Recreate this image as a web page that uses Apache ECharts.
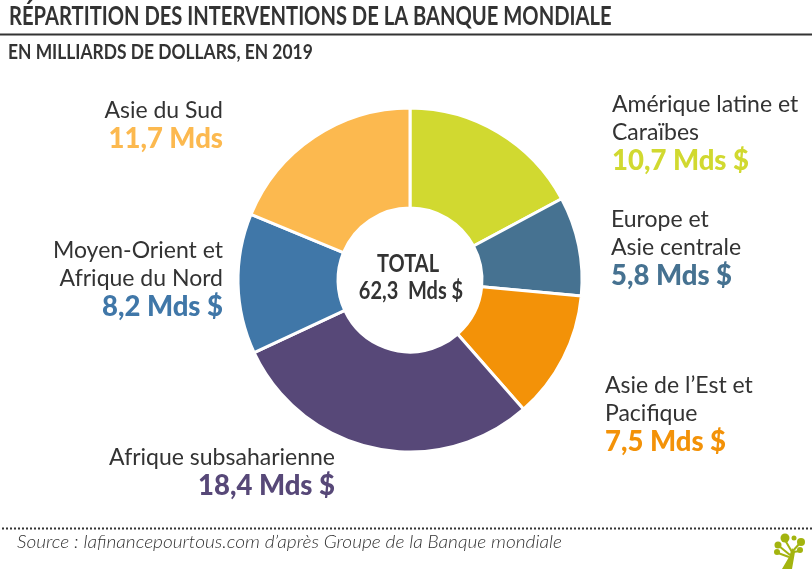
<!DOCTYPE html>
<html>
<head>
<meta charset="utf-8">
<title>Répartition des interventions de la Banque mondiale</title>
<style>
html, body { margin: 0; padding: 0; background: #fff; }
#main { width: 812px; height: 569px; }
</style>
<script src="https://cdn.jsdelivr.net/npm/echarts@6/dist/echarts.min.js"></script>
</head>
<body>
<div id="main"></div>
<script>
// valeurs, en milliards de dollars
var regions = ['Amérique latine et\nCaraïbes', 'Europe et\nAsie centrale', 'Asie de l’Est et\nPacifique',
    'Afrique subsaharienne', 'Moyen-Orient et\nAfrique du Nord', 'Asie du Sud'];
var values = [10.7, 5.8, 7.5, 18.4, 8.2, 11.7];
var valueLabels = ['10,7 Mds $', '5,8 Mds $', '7,5 Mds $', '18,4 Mds $', '8,2 Mds $', '11,7 Mds'];
var colors = ['#d1d930', '#467291', '#f39208', '#574878', '#4077a8', '#fcb94f'];

// position des étiquettes (x, y du bord d'ancrage)
var labelAnchors = [
    { x: 612, y: 133, align: 'left' },
    { x: 611, y: 248, align: 'left' },
    { x: 605, y: 414, align: 'left' },
    { x: 335, y: 472, align: 'right' },
    { x: 223, y: 279, align: 'right' },
    { x: 223, y: 125, align: 'right' }
];

var myChart = echarts.init(document.getElementById('main'), null, { renderer: 'canvas' });

var pieData = regions.map(function (name, i) {
    return {
        name: name,
        value: values[i],
        itemStyle: { color: colors[i] },
        label: {
            formatter: '{name|' + name.split('\n').join('}\n{name|') + '}\n{val|' + valueLabels[i] + '}',
            rich: {
                name: { fontFamily: 'Lato', fontSize: 23, lineHeight: 28, color: '#333333', align: labelAnchors[i].align },
                val: { fontFamily: 'Lato', fontSize: 27.5, fontWeight: 900, lineHeight: 28, color: colors[i], align: labelAnchors[i].align }
            }
        }
    };
});

function leaf(cx, cy, r) {
    return { type: 'circle', shape: { cx: cx, cy: cy, r: r }, style: { fill: '#a3b40f' } };
}
function branch(points) {
    return { type: 'polyline', shape: { points: points }, style: { stroke: '#a3b40f', fill: null, lineWidth: 2 } };
}

var option = {
    animation: false,
    backgroundColor: '#ffffff',
    series: [{
        type: 'pie',
        center: [410, 280],
        radius: [72, 172],
        startAngle: 90,
        clockwise: true,
        avoidLabelOverlap: false,
        itemStyle: { borderColor: '#ffffff', borderWidth: 3 },
        label: { show: true, position: 'outside' },
        labelLine: { show: false },
        labelLayout: function (params) {
            var a = labelAnchors[params.dataIndex];
            return { x: a.x, y: a.y, align: a.align, verticalAlign: 'middle' };
        },
        data: pieData
    }],
    graphic: [
        { type: 'text', x: 9, y: 17, scaleX: 0.775, style: { text: 'RÉPARTITION DES INTERVENTIONS DE LA BANQUE MONDIALE', verticalAlign: 'middle', fontFamily: 'Lato', fontSize: 26, fontWeight: 'bold', fill: '#333333' } },
        { type: 'line', shape: { x1: 0, y1: 34.5, x2: 812, y2: 34.5 }, style: { stroke: '#333333', lineWidth: 2 } },
        { type: 'text', x: 8, y: 53, scaleX: 0.87, style: { text: 'EN MILLIARDS DE DOLLARS, EN 2019', verticalAlign: 'middle', fontFamily: 'Lato', fontSize: 20, fontWeight: 'bold', fill: '#333333' } },
        { type: 'text', x: 408, y: 264, scaleX: 0.8, style: { text: 'TOTAL', align: 'center', verticalAlign: 'middle', fontFamily: 'Lato', fontWeight: 'bold', fontSize: 25, fill: '#333333' } },
        { type: 'text', x: 411, y: 291, scaleX: 0.8, style: { text: '62,3  Mds $', align: 'center', verticalAlign: 'middle', fontFamily: 'Lato', fontWeight: 'bold', fontSize: 25, fill: '#333333' } },
        { type: 'line', shape: { x1: 2, y1: 528.5, x2: 812, y2: 528.5 }, style: { stroke: '#333333', lineWidth: 2, lineDash: [2, 2] } },
        { type: 'text', x: 17, y: 542, scaleX: 1.06, style: { text: 'Source : lafinancepourtous.com d’après Groupe de la Banque mondiale', verticalAlign: 'middle', fontFamily: 'Lato', fontStyle: 'italic', fontWeight: 300, fontSize: 18, fill: '#333333' } },
        // petit arbre du logo
        { type: 'polygon', shape: { points: [[782, 569], [789, 557], [792, 548], [795, 552], [792, 569]] }, style: { fill: '#a3b40f' } },
        branch([[792, 552], [785, 540]]), branch([[792, 552], [800, 543]]), branch([[790, 555], [779, 546]]),
        branch([[793, 552], [800, 551]]), branch([[789, 557], [778, 553]]),
        leaf(785, 538, 4.5), leaf(794, 538, 2.5), leaf(801, 542, 4), leaf(778, 545, 3.5), leaf(777, 552, 3), leaf(800, 550, 3)
    ]
};

myChart.setOption(option);
</script>
</body>
</html>
